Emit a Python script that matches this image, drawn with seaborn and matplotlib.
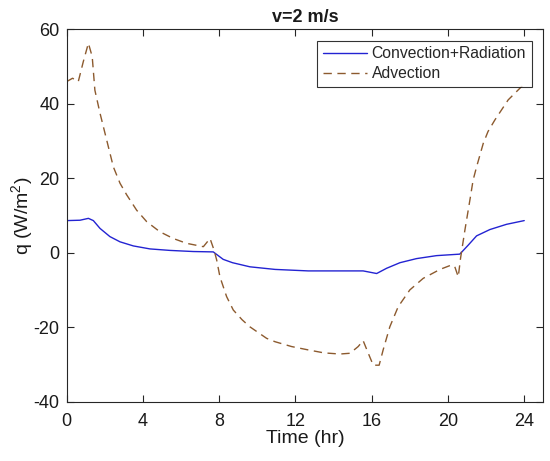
import matplotlib
matplotlib.use("Agg")
import matplotlib.pyplot as plt
import seaborn as sns
import pandas as pd

# Advection (brown dashed)
t_adv = [0, 0.31, 0.61, 0.87, 1.14, 1.34, 1.48, 1.75, 2.10, 2.45, 2.80, 3.15,
         3.67, 4.20, 4.89, 5.59, 6.29, 7.17, 7.52, 7.73, 7.87, 8.04, 8.39,
         8.74, 9.2, 9.61, 10.49, 10.93, 11.8, 12.67, 13.5, 14.33, 14.86, 15.29,
         15.55, 15.82, 16.08, 16.39, 16.60, 16.95, 17.39, 18.00, 18.70, 19.58,
         20.19, 20.36, 20.54, 20.66, 20.89, 21.15, 21.32, 21.5, 21.85, 22.1,
         22.46, 23.16, 23.77, 24]
q_adv = [45.9, 46.8, 45.9, 51.2, 56.2, 52.6, 43.6, 37.4, 30.2, 23.0, 18.6, 15.5,
         11.4, 8.3, 5.6, 3.8, 2.5, 1.6, 3.8, 0.7, -2.0, -6.5, -11.8,
         -15.4, -18.0, -19.9, -23.0, -23.9, -25.2, -26.1, -26.9, -27.2, -27.0, -25.2,
         -23.6, -27.0, -30.2, -30.2, -26.1, -19.9, -14.5, -10.0, -6.9, -4.5,
         -3.3, -3.8, -6.5, -1.5, 6.1, 14.1, 19.5, 23.0, 29.3, 32.5,
         35.6, 41.0, 44.1, 45.2]

# Convection + Radiation (blue solid)
t_conv = [0, 0.70, 1.14, 1.40, 1.75, 2.27, 2.80, 3.50, 4.37, 5.42, 6.64, 7.69,
          8.21, 8.7, 9.61, 10.93, 12.67, 14.33, 15.55, 16.26, 16.78, 17.48,
          18.35, 19.40, 20.62, 21.06, 21.50, 22.20, 23.07, 24.0]
q_conv = [8.6, 8.7, 9.2, 8.6, 6.5, 4.3, 2.9, 1.8, 1.0, 0.6, 0.3, 0.2,
          -1.8, -2.7, -3.8, -4.5, -4.9, -4.9, -4.9, -5.6, -4.2, -2.7,
          -1.6, -0.8, -0.4, 2.0, 4.5, 6.2, 7.6, 8.6]

xticks = [0, 4, 8, 12, 16, 20, 24]
yticks = [-40, -20, 0, 20, 40, 60]
series_names = ["Convection+Radiation", "Advection"]

sns.set_style("white")
plt.rcParams['font.family'] = ['Liberation Sans', 'DejaVu Sans']
plt.rcParams['mathtext.default'] = 'regular'
plt.rcParams['axes.unicode_minus'] = False

df = pd.concat([
    pd.DataFrame({"t": t_conv, "q": q_conv, "s": series_names[0]}),
    pd.DataFrame({"t": t_adv, "q": q_adv, "s": series_names[1]}),
], ignore_index=True)

fig = plt.figure(figsize=(5.5, 4.61), dpi=100)
ax = fig.add_axes([0.1212, 0.1286, 0.8666, 0.8084])

sns.lineplot(data=df, x="t", y="q", hue="s", style="s",
             palette={series_names[0]: "#2323d2", series_names[1]: "#8c5a2e"},
             dashes={series_names[0]: "", series_names[1]: (6, 4)},
             linewidth=1.0, ax=ax, sort=False, estimator=None)

ax.set_xlim(0, 25)
ax.set_ylim(-40, 60)
ax.set_xticks(xticks)
ax.set_yticks(yticks)
edge = "#262626"
for sp in ax.spines.values():
    sp.set_color(edge)
    sp.set_linewidth(0.8)
ax.tick_params(direction="in", length=5, width=0.8, colors=edge,
               labelcolor="#1a1a1a", labelsize=13, top=True, right=True,
               bottom=True, left=True)
ax.tick_params(axis="x", pad=8)
ax.tick_params(axis="y", pad=5)
ax.set_xlabel("Time (hr)", fontsize=14, labelpad=0, color="#1a1a1a")
ax.set_ylabel("q (W/m$^2$)", fontsize=14, labelpad=-1, color="#1a1a1a")
ax.set_title("v=2 m/s", fontsize=13, fontweight="bold", pad=5, color="#1a1a1a")

leg = ax.legend(loc="upper right", fontsize=11.3, frameon=True, fancybox=False,
                edgecolor="black", borderaxespad=0.75, handlelength=2.8,
                borderpad=0.35, labelspacing=0.3, handletextpad=0.3)
leg.get_frame().set_linewidth(0.8)

fig.savefig("out.png", dpi=100)
